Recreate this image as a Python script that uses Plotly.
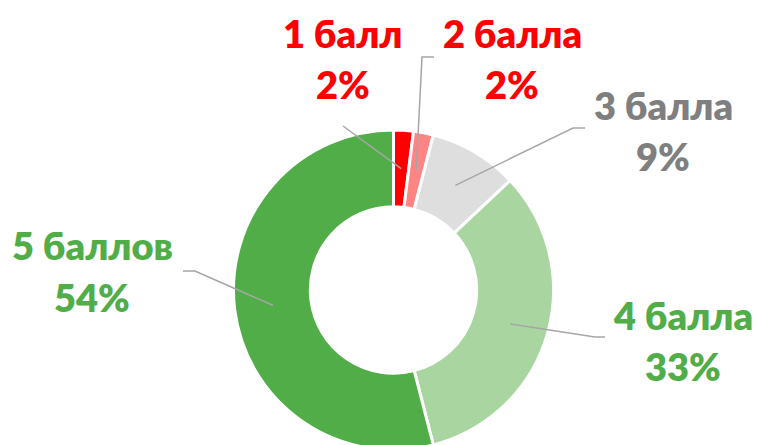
import numpy as np
import plotly.graph_objects as go

W, H = 757, 450

labels = ["1 балл", "2 балла", "3 балла", "4 балла", "5 баллов"]
values = [2, 2, 9, 33, 54]
slice_colors = ["#FF0000", "#FF8585", "#DEDEDE", "#A9D5A0", "#51AD48"]
text_colors = ["#FF0000", "#FF0000", "#7F7F7F", "#51AD48", "#51AD48"]

# label centres (px): name line, then percentage line
label_x = [343, 512, 663, 683, 92]
name_y = [33, 33, 105, 315, 245]
pct_y = [84, 84, 156, 366, 297]
# leader line outer tip and elbow (px)
leader_tip = [(343, 126), (434, 57), (585, 128), (605, 337), (183, 271)]
leader_elbow = [(343, 126), (422, 57), (573, 128), (595, 337), (195, 271)]

# donut placement (bottom edge runs just past the window)
cx, cy, R = 393.5, 290, 160
hole = 0.52


def px(x):
    return x / W


def py(y):
    return 1 - y / H


fig = go.Figure()
fig.add_trace(go.Pie(
    labels=labels,
    values=values,
    sort=False,
    direction="clockwise",
    rotation=0,
    hole=hole,
    textinfo="none",
    hoverinfo="label+percent",
    marker={"colors": slice_colors, "line": {"color": "white", "width": 3}},
    domain={"x": [px(cx - R), px(cx + R)], "y": [max(0, py(cy + R)), py(cy - R)]},
    showlegend=False,
))

# leader lines end in the middle of each ring segment
total = sum(values)
cum = np.cumsum([0] + values)
r_mid = R * (1 + hole) / 2
font = {"family": "Lato", "size": 38, "weight": 800}
for i, lab in enumerate(labels):
    ang = np.deg2rad((cum[i] + cum[i + 1]) / 2 / total * 360)
    ex = cx + r_mid * np.sin(ang)
    ey = cy - r_mid * np.cos(ang)
    tx, ty = leader_tip[i]
    bx, by = leader_elbow[i]
    path = f"M {px(tx)} {py(ty)} L {px(bx)} {py(by)} L {px(ex)} {py(ey)}"
    fig.add_shape(type="path", path=path, xref="paper", yref="paper",
                  line={"color": "#A6A6A6", "width": 1.5})

    pct = round(values[i] / total * 100)
    for text, y in ((lab, name_y[i]), (f"{pct}%", pct_y[i])):
        fig.add_annotation(x=px(label_x[i]), y=py(y), xref="paper", yref="paper",
                           text=text, showarrow=False,
                           xanchor="center", yanchor="middle",
                           font={**font, "color": text_colors[i]})

fig.update_layout(
    width=W,
    height=H,
    margin={"l": 0, "r": 0, "t": 0, "b": 0},
    paper_bgcolor="white",
    plot_bgcolor="white",
)
fig.write_html(
    "out.html",
    config={"displayModeBar": False},
    post_script="document.body.style.margin='0';document.body.style.overflow='hidden';",
)
